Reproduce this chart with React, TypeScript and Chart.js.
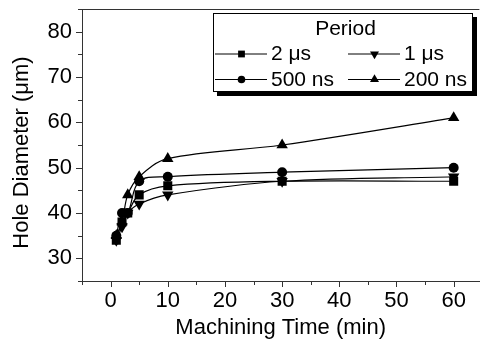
import React, { useEffect, useRef } from "react";
import { Chart, registerables } from "chart.js";

Chart.register(...registerables);

const times = [1, 2, 3, 5, 10, 30, 60];
const seriesLabels = ["2 μs", "1 μs", "500 ns", "200 ns"];
const s2us = [34, 38, 40, 44, 46, 47, 47];
const s1us = [34, 37, 40, 42, 44, 47, 48];
const s500ns = [35, 40, 40, 47, 48, 49, 50];
const s200ns = [35, 38, 44, 48, 52, 55, 61];
const xTickValues = [0, 10, 20, 30, 40, 50, 60];
const yTickValues = [30, 40, 50, 60, 70, 80];
const xMinorValues = [-5, 5, 15, 25, 35, 45, 55];
const yMinorValues = [25, 35, 45, 55, 65, 75, 85];

const FONT = "Arial, 'Liberation Sans', sans-serif";
const AXIS_COLOR = "#333";

type Marker = { style: string; rotation: number; r: number; lr: number };
const markers: Marker[] = [
  { style: "rect", rotation: 0, r: 6.4, lr: 4.8 },
  { style: "triangle", rotation: 180, r: 6.6, lr: 5.2 },
  { style: "circle", rotation: 0, r: 5, lr: 3.8 },
  { style: "triangle", rotation: 0, r: 6.6, lr: 5.2 },
];

function drawMarker(ctx: CanvasRenderingContext2D, m: Marker, x: number, y: number, r: number) {
  ctx.beginPath();
  if (m.style === "rect") {
    const s = r / Math.SQRT2;
    ctx.rect(x - s, y - s, 2 * s, 2 * s);
  } else if (m.style === "circle") {
    ctx.arc(x, y, r, 0, Math.PI * 2);
  } else {
    let rad = (m.rotation * Math.PI) / 180;
    ctx.moveTo(x + Math.sin(rad) * r, y - Math.cos(rad) * r);
    rad += (2 * Math.PI) / 3;
    ctx.lineTo(x + Math.sin(rad) * r, y - Math.cos(rad) * r);
    rad += (2 * Math.PI) / 3;
    ctx.lineTo(x + Math.sin(rad) * r, y - Math.cos(rad) * r);
    ctx.closePath();
  }
  ctx.fill();
}

const decorPlugin = {
  id: "decor",
  afterDraw(chart: any) {
    const ctx: CanvasRenderingContext2D = chart.ctx;
    const xs = chart.scales.x;
    const ys = chart.scales.y;
    const area = chart.chartArea;
    ctx.save();
    ctx.strokeStyle = AXIS_COLOR;
    ctx.lineWidth = 1;
    // top frame line
    ctx.beginPath();
    ctx.moveTo(area.left, area.top + 0.5);
    ctx.lineTo(area.right, area.top + 0.5);
    ctx.stroke();
    // x ticks
    const xt = [...xTickValues.map((v) => [v, 6]), ...xMinorValues.map((v) => [v, 4])];
    xt.forEach(([v, len]) => {
      const px = Math.round(xs.getPixelForValue(v)) + 0.5;
      ctx.beginPath();
      ctx.moveTo(px, area.bottom);
      ctx.lineTo(px, area.bottom + len);
      ctx.stroke();
    });
    const yt = [...yTickValues.map((v) => [v, 6]), ...yMinorValues.map((v) => [v, 4])];
    yt.forEach(([v, len]) => {
      const py = Math.round(ys.getPixelForValue(v)) + 0.5;
      ctx.beginPath();
      ctx.moveTo(area.left, py);
      ctx.lineTo(area.left - len, py);
      ctx.stroke();
    });

    // axis titles
    ctx.fillStyle = "#000";
    ctx.font = `22px ${FONT}`;
    ctx.textAlign = "center";
    ctx.textBaseline = "alphabetic";
    ctx.fillText("Machining Time (min)", (area.left + area.right) / 2, 334);
    ctx.save();
    ctx.translate(27.5, 152.5);
    ctx.rotate(-Math.PI / 2);
    ctx.fillText("Hole Diameter (μm)", 0, 0);
    ctx.restore();

    // legend
    const bx = 213, by = 13, bw = 260, bh = 79;
    ctx.fillStyle = "#fff";
    ctx.fillRect(bx, by, bw, bh);
    ctx.fillStyle = "#000";
    // shadow strips (right and bottom)
    ctx.fillRect(bx + bw, by + 4, 4, bh);
    ctx.fillRect(bx + 4, by + bh, bw, 4);
    ctx.strokeStyle = "#000";
    ctx.lineWidth = 1;
    ctx.strokeRect(bx + 0.5, by + 0.5, bw - 1, bh - 1);
    ctx.fillStyle = "#000";
    ctx.font = `21px ${FONT}`;
    ctx.textAlign = "center";
    ctx.textBaseline = "middle";
    ctx.fillText("Period", 345.5, 29);
    const cols = [215, 348];
    const rows = [53.5, 79];
    chart.data.datasets.forEach((ds: any, i: number) => {
      const cx = cols[i % 2];
      const cy = rows[Math.floor(i / 2)];
      ctx.strokeStyle = "#000";
      ctx.beginPath();
      ctx.moveTo(cx, cy + 0.5);
      ctx.lineTo(cx + 52, cy + 0.5);
      ctx.stroke();
      ctx.fillStyle = "#000";
      drawMarker(ctx, markers[i], cx + 26.5, cy + 0.5, markers[i].lr);
      ctx.textAlign = "left";
      ctx.fillText(ds.label, cx + 56, cy + 1);
    });
    ctx.restore();
  },
};

export default function App() {
  const ref = useRef<HTMLCanvasElement>(null);
  useEffect(() => {
    if (!ref.current) return;
    const all = [s2us, s1us, s500ns, s200ns];
    const chart = new Chart(ref.current, {
      type: "line",
      data: {
        datasets: all.map((vals, i) => ({
          label: seriesLabels[i],
          data: times.map((t, k) => ({ x: t, y: vals[k] })),
          borderColor: "#000",
          backgroundColor: "#000",
          borderWidth: 1.2,
          pointStyle: markers[i].style as any,
          rotation: markers[i].rotation,
          pointRadius: markers[i].r,
          pointBorderWidth: 0,
          tension: 0.35,
          fill: false,
        })),
      },
      options: {
        animation: false,
        responsive: false,
        maintainAspectRatio: false,
        layout: { padding: { top: 9, right: 0, left: 0, bottom: 0 } },
        plugins: { legend: { display: false }, tooltip: { enabled: false } },
        scales: {
          x: {
            type: "linear",
            min: -5,
            max: 64.5,
            afterFit: (s: any) => { s.height = 59; s.paddingLeft = 0; s.paddingRight = 0; s.paddingTop = 0; s.paddingBottom = 0; },
            afterBuildTicks: (s: any) => { s.ticks = xTickValues.map((v) => ({ value: v })); },
            grid: { drawOnChartArea: false, drawTicks: true, tickLength: 6, tickColor: "rgba(0,0,0,0)" },
            border: { display: true, color: AXIS_COLOR, width: 1 },
            ticks: { autoSkip: false, maxRotation: 0, padding: 1, color: "#000", font: { family: FONT, size: 22 } },
          },
          y: {
            type: "linear",
            min: 25,
            max: 85,
            afterFit: (s: any) => { s.width = 82; s.paddingLeft = 0; s.paddingRight = 0; s.paddingTop = 0; s.paddingBottom = 0; },
            afterBuildTicks: (s: any) => { s.ticks = yTickValues.map((v) => ({ value: v })); },
            grid: { drawOnChartArea: false, drawTicks: true, tickLength: 6, tickColor: "rgba(0,0,0,0)" },
            border: { display: true, color: AXIS_COLOR, width: 1 },
            ticks: { autoSkip: false, padding: 4, color: "#000", font: { family: FONT, size: 22 } },
          },
        },
      },
      plugins: [decorPlugin],
    });
    return () => chart.destroy();
  }, []);
  return (
    <div style={{ position: "fixed", left: 0, top: 0, width: 486, height: 340, background: "#fff" }}>
      <canvas ref={ref} width={486} height={340} style={{ width: 486, height: 340, display: "block" }} />
    </div>
  );
}
